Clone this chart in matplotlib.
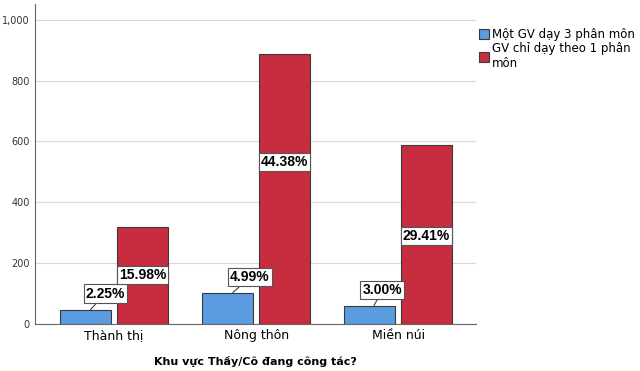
import matplotlib.pyplot as plt
import numpy as np
from matplotlib.ticker import FuncFormatter

# Data
categories = ['Thành thị', 'Nông thôn', 'Miền núi']
series_names = ['Một GV dạy 3 phân môn', 'GV chỉ dạy theo 1 phân\nmôn']
blue_counts = [45, 100, 60]
red_counts = [320, 889, 589]
blue_pcts = ['2.25%', '4.99%', '3.00%']
red_pcts = ['15.98%', '44.38%', '29.41%']

blue = '#5b9bdf'
red = '#c62d3f'
edge = '#3a3a3a'

plt.rcParams['font.family'] = ['DejaVu Sans']

fig = plt.figure(figsize=(6.4, 3.71), dpi=100)
ax = fig.add_axes([0.055, 0.127, 0.689, 0.862])

x = np.arange(len(categories))
w = 0.36
off = 0.2
ax.bar(x - off, blue_counts, w, color=blue, edgecolor=edge, linewidth=0.8,
       label=series_names[0], zorder=3)
ax.bar(x + off, red_counts, w, color=red, edgecolor=edge, linewidth=0.8,
       label=series_names[1], zorder=3)

box = dict(boxstyle='square,pad=0.15', fc='white', ec='#555555', lw=0.8)
lab_font = dict(family='Liberation Sans', fontsize=10, fontweight='bold')

# Blue labels sit just above the bar with a short leader line.
blue_dx = [11, 13, 6]  # points
blue_dy = [12, 12, 11]
for i in range(len(categories)):
    ax.annotate(blue_pcts[i], xy=(x[i] - off + 0.03, blue_counts[i]),
                xytext=(blue_dx[i], blue_dy[i]), textcoords='offset points',
                ha='center', va='center', bbox=box, zorder=5,
                arrowprops=dict(arrowstyle='-', color='#444444', lw=0.8,
                                shrinkA=0, shrinkB=0), **lab_font)

# Red labels inside the bars.
red_frac = [0.5, 0.6, 0.49]
for i in range(len(categories)):
    ax.text(x[i] + off, red_counts[i] * red_frac[i], red_pcts[i],
            ha='center', va='center', bbox=box, zorder=5, **lab_font)

ax.set_xlim(-0.556, 2.55)
ax.set_ylim(0, 1052)
ax.set_yticks(range(0, 1001, 200))
ax.yaxis.set_major_formatter(FuncFormatter(lambda v, p: f'{int(v):,}'))
ax.tick_params(axis='y', length=0, labelsize=7, colors='#333333', pad=4)
ax.tick_params(axis='x', length=0, labelsize=9, pad=4)
ax.set_xticks(x)
ax.set_xticklabels(categories)
ax.grid(axis='y', color='#d9d9d9', linewidth=0.8, zorder=0)
ax.set_axisbelow(True)
for s in ['top', 'right']:
    ax.spines[s].set_visible(False)
for s in ['left', 'bottom']:
    ax.spines[s].set_color('#666666')
    ax.spines[s].set_linewidth(0.8)

ax.set_xlabel('Khu vực Thầy/Cô đang công tác?', fontsize=8, fontweight='bold',
              labelpad=10)

ax.legend(loc='upper left', bbox_to_anchor=(0.995, 0.94), frameon=False,
          fontsize=8.5, handlelength=0.9, handleheight=0.9, handletextpad=0.2,
          labelspacing=0.1, borderaxespad=0)

fig.savefig('out.png', dpi=100)
